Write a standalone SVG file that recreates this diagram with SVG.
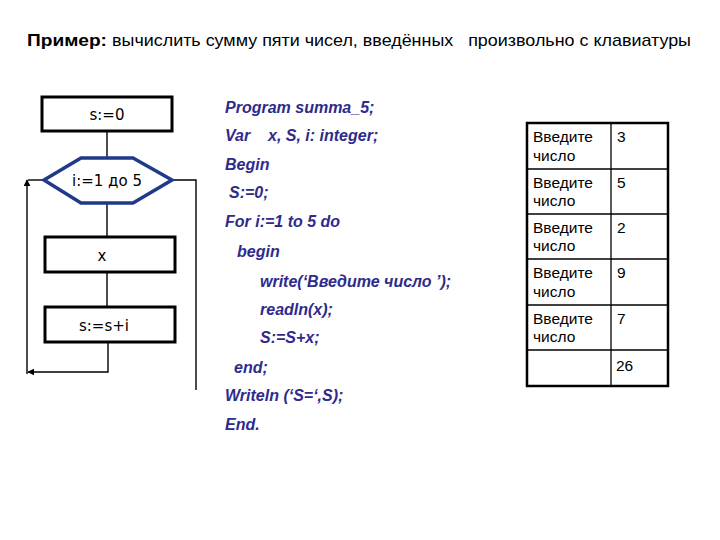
<svg xmlns="http://www.w3.org/2000/svg" width="720" height="540" viewBox="0 0 720 540">
<style>
.title{font-family:"Liberation Sans",Arial,sans-serif;font-size:17px;fill:#000}
.fc{font-family:"DejaVu Sans",Verdana,sans-serif;font-size:15px;fill:#000;text-anchor:middle}
.box{fill:#fff;stroke:#000;stroke-width:3}
.hex{fill:#fff;stroke:#1f3a8a;stroke-width:3.5;stroke-linejoin:miter}
.code{font-family:"Liberation Sans",Arial,sans-serif;font-size:16px;font-weight:bold;font-style:italic;fill:#2e2b8c}
.tbl{font-family:"Liberation Sans",Arial,sans-serif;font-size:15.5px;fill:#000}
.conn{fill:none;stroke:#000;stroke-width:1.4}
.outer{fill:none;stroke:#000;stroke-width:2.5}
.inner{stroke:#000;stroke-width:1.3}
</style>
<defs>
<marker id="arr" viewBox="0 0 10 10" refX="9" refY="5" markerWidth="7" markerHeight="7" markerUnits="userSpaceOnUse" orient="auto">
<path d="M0 0 L10 5 L0 10 Z" fill="#000"/>
</marker>
</defs>
<rect width="720" height="540" fill="#fff"/>
<g id="title">
<text class="title" x="27" y="46" font-weight="bold" textLength="80" lengthAdjust="spacingAndGlyphs">Пример:</text>
<text class="title" x="112" y="46" xml:space="preserve" textLength="579" lengthAdjust="spacingAndGlyphs">вычислить сумму пяти чисел, введённых   произвольно с клавиатуры</text>
</g>
<g id="connectors">
<path class="conn" d="M107 131 V158"/>
<path class="conn" d="M107 203 V237"/>
<path class="conn" d="M107 272 V307"/>
<path class="conn" d="M108 342 V372 H28" marker-end="url(#arr)"/>
<path class="conn" d="M27 374 V180" marker-end="url(#arr)"/>
<path class="conn" d="M28 180 H44"/>
<path class="conn" d="M172 180 H196 V390"/>
</g>
<g id="node-s0">
<rect class="box" x="42" y="97" width="130" height="34"/>
<text class="fc" x="107" y="120">s:=0</text>
</g>
<g id="node-loop">
<polygon class="hex" points="44,180 81,158 133,158 172,180 133,203 81,203"/>
<text class="fc" x="107" y="186">i:=1 до 5</text>
</g>
<g id="node-x">
<rect class="box" x="45" y="237" width="130" height="35"/>
<text class="fc" x="102" y="261">x</text>
</g>
<g id="node-sum">
<rect class="box" x="45" y="307" width="130" height="35"/>
<text class="fc" x="104" y="331">s:=s+i</text>
</g>
<g id="code">
<text class="code" x="225" y="113">Program summa_5;</text>
<text class="code" x="225" y="141" xml:space="preserve">Var    x, S, i: integer;</text>
<text class="code" x="225" y="170">Begin</text>
<text class="code" x="229" y="198">S:=0;</text>
<text class="code" x="225" y="227">For i:=1 to 5 do</text>
<text class="code" x="237" y="257">begin</text>
<text class="code" x="260" y="287">write(‘Введите число ’);</text>
<text class="code" x="260" y="315">readln(x);</text>
<text class="code" x="260" y="343">S:=S+x;</text>
<text class="code" x="234" y="373">end;</text>
<text class="code" x="225" y="401">Writeln (‘S=‘,S);</text>
<text class="code" x="225" y="430">End.</text>
</g>
<g id="table">
<line class="inner" x1="611" y1="123" x2="611" y2="386"/>
<line class="inner" x1="527" y1="169" x2="668" y2="169"/>
<line class="inner" x1="527" y1="214" x2="668" y2="214"/>
<line class="inner" x1="527" y1="259" x2="668" y2="259"/>
<line class="inner" x1="527" y1="305" x2="668" y2="305"/>
<line class="inner" x1="527" y1="350" x2="668" y2="350"/>
<rect class="outer" x="527" y="123" width="141" height="263"/>
<text class="tbl" x="533" y="142">Введите</text>
<text class="tbl" x="533" y="161">число</text>
<text class="tbl" x="617" y="142">3</text>
<text class="tbl" x="533" y="188">Введите</text>
<text class="tbl" x="533" y="206">число</text>
<text class="tbl" x="617" y="188">5</text>
<text class="tbl" x="533" y="233">Введите</text>
<text class="tbl" x="533" y="251">число</text>
<text class="tbl" x="617" y="233">2</text>
<text class="tbl" x="533" y="278">Введите</text>
<text class="tbl" x="533" y="297">число</text>
<text class="tbl" x="617" y="278">9</text>
<text class="tbl" x="533" y="324">Введите</text>
<text class="tbl" x="533" y="342">число</text>
<text class="tbl" x="617" y="324">7</text>
<text class="tbl" x="616" y="371">26</text>
</g>
</svg>
